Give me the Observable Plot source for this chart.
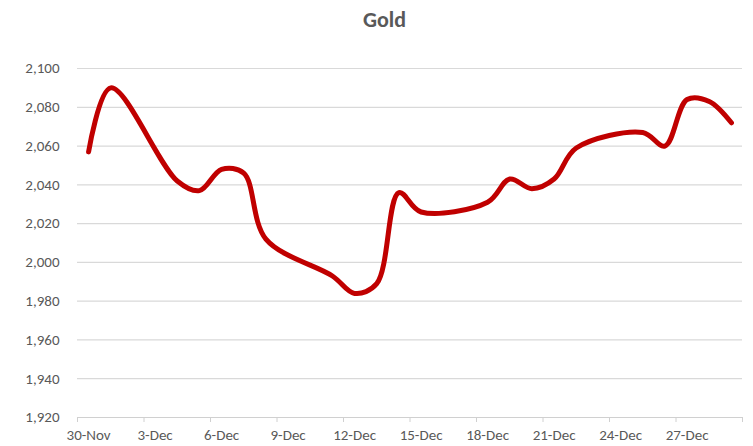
<!DOCTYPE html>
<html>
<head>
<meta charset="utf-8">
<script src="https://cdn.jsdelivr.net/npm/d3@7"></script>
<script src="https://cdn.jsdelivr.net/npm/@observablehq/plot@0.6"></script>
<style>
  body { margin: 0; background: #fff; font-family: Carlito, Lato, "Open Sans", sans-serif; }
  #title { height: 40px; line-height: 40px; font-size: 22px; font-weight: bold; color: #595959; text-align: center; padding-left: 16px; box-sizing: border-box; width: 753px; }
</style>
</head>
<body>
<div id="title">Gold</div>
<div id="chart"></div>
<script>
const dates = ["2023-11-30","2023-12-01","2023-12-04","2023-12-05","2023-12-06","2023-12-07","2023-12-08",
  "2023-12-11","2023-12-12","2023-12-13","2023-12-14","2023-12-15","2023-12-18","2023-12-19","2023-12-20",
  "2023-12-21","2023-12-22","2023-12-25","2023-12-26","2023-12-27","2023-12-28","2023-12-29"];
const prices = [2057,2090,2042,2037,2048,2046,2012,1993,1984,1989,2036,2026,2031,2043,2038,2043,2059,2067,2060,2084,2083,2072];
const yTicks = [1920,1940,1960,1980,2000,2020,2040,2060,2080,2100];
const xTickDates = ["2023-11-30","2023-12-03","2023-12-06","2023-12-09","2023-12-12","2023-12-15","2023-12-18","2023-12-21","2023-12-24","2023-12-27","2023-12-30"];
const xLabelDates = xTickDates.slice(0, 10);

const halfDay = 12 * 3600 * 1000;
const data = dates.map((d, i) => ({date: new Date(new Date(d + "T00:00:00Z").getTime() + halfDay), price: prices[i]}));
const tickD = xTickDates.map(d => new Date(d + "T00:00:00Z"));
const labelD = xLabelDates.map(d => new Date(new Date(d + "T00:00:00Z").getTime() + halfDay));
const fmt = d3.utcFormat("%-d-%b");

const chart = Plot.plot({
  width: 753,
  height: 406,
  marginTop: 28,
  marginBottom: 29,
  marginLeft: 77,
  marginRight: 11,
  style: {fontFamily: "Carlito, Lato, 'Open Sans', sans-serif", fontSize: "15px", color: "#595959"},
  x: {type: "utc", domain: [tickD[0], tickD[tickD.length - 1]]},
  y: {domain: [1920, 2100]},
  marks: [
    Plot.gridY(yTicks.slice(1), {stroke: "#d9d9d9", strokeOpacity: 1, strokeWidth: 1.2}),
    Plot.ruleY([1920], {stroke: "#d0d0d0", strokeWidth: 1.2}),
    Plot.axisY(yTicks, {tickSize: 0, tickPadding: 18, tickFormat: d3.format(","), label: null, fill: "#595959"}),
    Plot.axisX(tickD, {tickSize: 5, stroke: "#d0d0d0", tickFormat: () => "", label: null}),
    Plot.axisX(labelD, {tickSize: 0, tickPadding: 12, tickFormat: fmt, label: null, fill: "#595959"}),
    Plot.line(data, {x: "date", y: "price", stroke: "#c00000", strokeWidth: 5, curve: "catmull-rom", strokeLinecap: "round", strokeLinejoin: "round"})
  ]
});
document.getElementById("chart").appendChild(chart);
</script>
</body>
</html>
